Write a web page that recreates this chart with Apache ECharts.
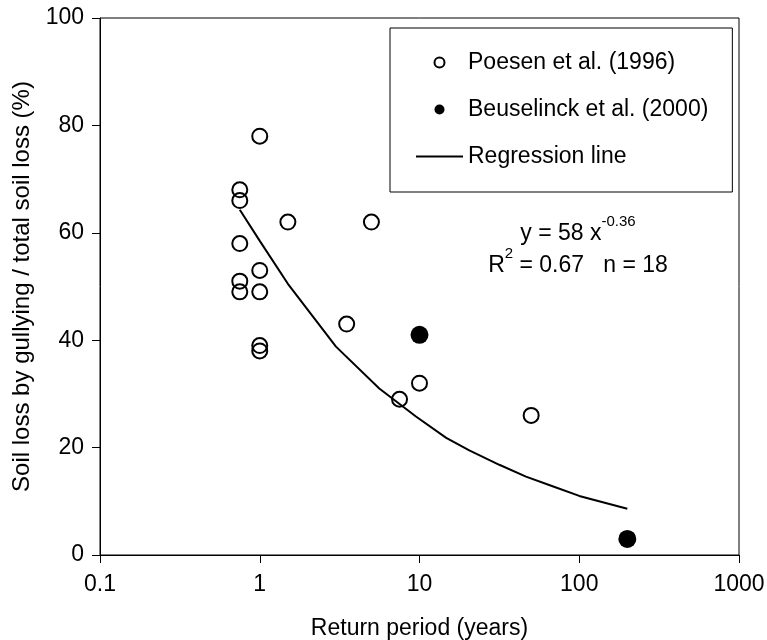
<!DOCTYPE html>
<html>
<head>
<meta charset="utf-8">
<script src="https://cdn.jsdelivr.net/npm/echarts@6/dist/echarts.min.js"></script>
<style>html,body{margin:0;padding:0;background:#fff;}#chart{width:767px;height:640px;}</style>
</head>
<body>
<div id="chart"></div>
<script>
// Poesen et al. (1996) — open circles
var poesenX = [0.75, 0.75, 0.75, 0.75, 0.75, 1, 1, 1, 1, 1, 1.5, 3.5, 5, 7.5, 10, 50];
var poesenY = [68, 66, 58, 51, 49, 78, 53, 49, 39, 38, 62, 43, 62, 29, 32, 26];
// Beuselinck et al. (2000) — filled circles
var beusX = [10, 200];
var beusY = [41, 3];
// Regression line
var regX = [0.75, 1, 1.5, 3, 5.6, 9.5, 14.7, 20.5, 31.6, 46.4, 68.1, 100, 200];
var regY = [64.3, 58.5, 50.5, 38.8, 31.0, 25.8, 21.8, 19.5, 16.8, 14.6, 12.8, 11.0, 8.6];
// Axis ticks
var xTicks = [0.1, 1, 10, 100, 1000];
var yTicks = [0, 20, 40, 60, 80, 100];

var seriesNames = ['Poesen et al. (1996)', 'Beuselinck et al. (2000)', 'Regression line'];
var xTitle = 'Return period (years)';
var yTitle = 'Soil loss by gullying / total soil loss (%)';

function pairs(xs, ys) { return xs.map(function (x, i) { return [x, ys[i]]; }); }

var FONT = "'Liberation Sans', Arial, sans-serif";
var chart = echarts.init(document.getElementById('chart'), null, { renderer: 'canvas' });

var richSup = {
  a: { fontSize: 23, fontFamily: FONT, fill: '#000', lineHeight: 31, verticalAlign: 'bottom' },
  s: { fontSize: 15, fontFamily: FONT, fill: '#000', lineHeight: 31, verticalAlign: 'top' }
};

chart.setOption({
  backgroundColor: '#ffffff',
  animation: false,
  textStyle: { fontFamily: FONT, color: '#000' },
  grid: {
    left: 100, right: 28, top: 18, bottom: 85,
    show: true, borderColor: '#000', borderWidth: 1, backgroundColor: 'transparent',
    containLabel: false, outerBoundsMode: 'none'
  },
  xAxis: {
    type: 'log', logBase: 10, min: xTicks[0], max: xTicks[xTicks.length - 1],
    name: xTitle, nameLocation: 'middle', nameGap: 62,
    nameTextStyle: { fontSize: 23, color: '#000', fontFamily: FONT },
    axisLine: { show: true, lineStyle: { color: '#000', width: 1 } },
    axisTick: { show: true, inside: false, length: 8, lineStyle: { color: '#000' } },
    minorTick: { show: false },
    splitLine: { show: false },
    axisLabel: {
      fontSize: 23, color: '#000', margin: 18, fontFamily: FONT,
      formatter: function (v) { return v >= 1 ? String(Math.round(v)) : String(+v.toFixed(1)); }
    }
  },
  yAxis: {
    type: 'value', min: yTicks[0], max: yTicks[yTicks.length - 1], interval: 20,
    name: yTitle, nameLocation: 'middle', nameGap: 66, nameRotate: 90,
    nameTextStyle: { fontSize: 24, color: '#000', fontFamily: FONT },
    axisLine: { show: true, lineStyle: { color: '#000', width: 1 } },
    axisTick: { show: true, inside: false, length: 8, lineStyle: { color: '#000' } },
    splitLine: { show: false },
    axisLabel: { fontSize: 23, color: '#000', margin: 16, fontFamily: FONT }
  },
  legend: {
    left: 390, top: 28, orient: 'vertical',
    padding: [23, 24, 24, 25],
    itemGap: 24, itemWidth: 47, itemHeight: 10,
    borderColor: '#000', borderWidth: 1, backgroundColor: '#fff',
    textStyle: { fontSize: 23, color: '#000', fontFamily: FONT, lineHeight: 23 },
    data: [
      { name: seriesNames[0], icon: 'circle' },
      { name: seriesNames[1], icon: 'circle' },
      { name: seriesNames[2], itemStyle: { opacity: 0 } }
    ]
  },
  graphic: [
    {
      type: 'text', x: 578, y: 230,
      style: {
        text: '{a|y = 58 x}{s|-0.36}', align: 'center', verticalAlign: 'middle',
        fill: '#000', fontFamily: FONT, rich: richSup
      }
    },
    {
      type: 'text', x: 578, y: 262,
      style: {
        text: '{a|R}{s|2}{a| = 0.67   n = 18}', align: 'center', verticalAlign: 'middle',
        fill: '#000', fontFamily: FONT, rich: richSup
      }
    }
  ],
  series: [
    {
      name: seriesNames[2], type: 'line', data: pairs(regX, regY),
      symbol: 'none', smooth: false, z: 2,
      lineStyle: { color: '#000', width: 2 }, itemStyle: { color: '#000' }
    },
    {
      name: seriesNames[0], type: 'scatter', data: pairs(poesenX, poesenY),
      symbol: 'circle', symbolSize: 15, z: 3,
      itemStyle: { color: 'rgba(255,255,255,0)', borderColor: '#000', borderWidth: 2, opacity: 1 }
    },
    {
      name: seriesNames[1], type: 'scatter', data: pairs(beusX, beusY),
      symbol: 'circle', symbolSize: 18, z: 3,
      itemStyle: { color: '#000', borderColor: '#000', borderWidth: 0, opacity: 1 }
    }
  ]
});
</script>
</body>
</html>
